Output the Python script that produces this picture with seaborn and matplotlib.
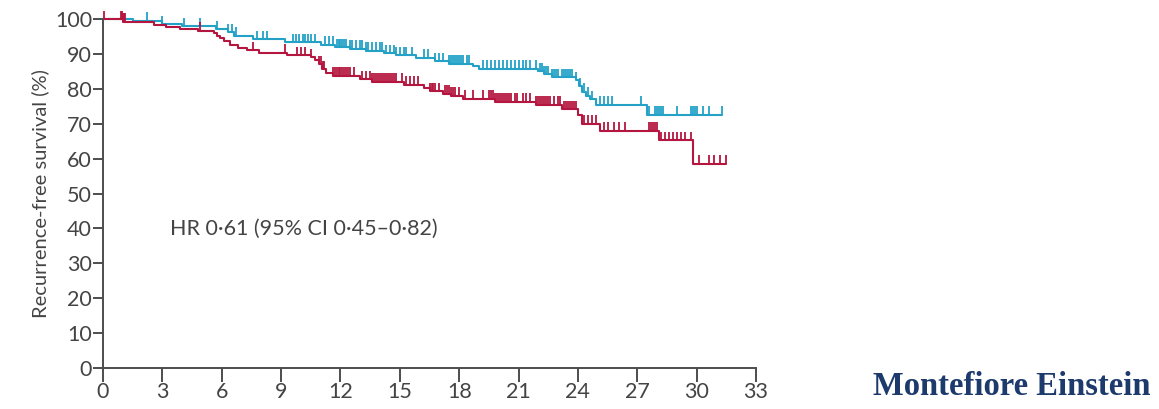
import numpy as np
import pandas as pd
import matplotlib
matplotlib.use("Agg")
import matplotlib.pyplot as plt
import seaborn as sns

# Kaplan-Meier step curves (months, recurrence-free survival %)
blue_times = [0, 1.5, 3.0, 4.0, 5.7, 6.3, 6.6, 7.6, 9.2, 11.0, 11.7, 12.5, 13.3, 14.2,
              14.8, 15.8, 16.8, 17.5, 18.7, 19.0, 22.0, 22.3, 22.7, 23.9, 24.05, 24.2,
              24.4, 24.6, 24.9, 27.5]
blue_surv = [100, 99.5, 98.6, 98.0, 97.0, 96.2, 95.2, 94.3, 93.4, 92.6, 92.0, 91.5, 90.9,
             90.2, 89.6, 88.9, 88.0, 87.2, 86.4, 85.8, 85.0, 84.2, 83.4, 82.4, 80.8, 79.2,
             78.0, 77.0, 75.5, 72.6]
blue_end = 31.3

red_times = [0, 1.0, 2.6, 3.2, 3.9, 4.8, 5.6, 5.75, 5.9, 6.1, 6.4, 6.8, 7.3, 7.9, 9.3,
             10.5, 10.7, 10.9, 11.05, 11.25, 11.6, 13.0, 13.6, 15.2, 16.2, 16.5, 17.2,
             17.6, 18.2, 19.8, 21.9, 23.2, 24.0, 24.2, 25.1, 28.1, 29.8]
red_surv = [100, 99.2, 98.4, 97.8, 97.2, 96.7, 96.0, 95.2, 94.6, 93.8, 92.6, 91.7, 91.0,
            90.3, 89.6, 89.0, 88.2, 87.0, 85.6, 84.6, 83.8, 82.8, 82.0, 81.2, 80.2, 79.3,
            78.6, 78.0, 77.2, 76.3, 75.4, 74.2, 72.4, 70.0, 68.0, 65.2, 58.6]
red_end = 31.5

# Censoring times
blue_censor = [2.2, 3.0, 4.1, 4.9, 5.75, 6.3, 6.5, 6.7, 7.8, 8.1, 8.3, 9.6, 9.75, 9.9, 10.1,
               10.2, 10.35, 10.5, 10.7, 11.2, 11.4, 11.6, 11.8, 11.9, 12.0, 12.1, 12.2, 12.3,
               12.5, 12.6, 12.8, 13.0, 13.1, 13.3, 13.4, 13.6, 13.8, 14.0, 14.1, 14.3, 14.5,
               14.7, 14.8, 15.0, 15.2, 15.3, 15.6, 16.2, 16.4, 16.8, 17.0, 17.2, 17.5, 17.6,
               17.7, 17.8, 17.9, 18.0, 18.1, 18.2, 18.4, 18.5, 19.2, 19.4, 19.6, 19.8, 20.0,
               20.2, 20.4, 20.6, 20.8, 21.0, 21.2, 21.4, 21.6, 21.9, 22.1, 22.2, 22.3, 22.4,
               22.5, 22.7, 22.8, 22.9, 23.0, 23.2, 23.3, 23.4, 23.5, 23.6, 23.7, 23.9, 24.1,
               24.3, 24.5, 24.7, 25.1, 25.3, 25.5, 25.7, 27.2, 27.6, 27.9, 28.0, 28.1, 28.2,
               28.3, 29.0, 29.7, 29.8, 29.9, 30.0, 30.3, 30.6, 31.3]
red_censor = [0.05, 0.9, 0.95, 1.0, 1.05, 1.1, 4.9, 7.6, 9.2, 9.8, 10.0, 10.2, 10.5, 10.9,
              11.0, 11.1, 11.15, 11.6, 11.7, 11.8, 11.9, 12.0, 12.1, 12.2, 12.3, 12.4, 12.5,
              12.7, 13.1, 13.3, 13.5, 13.6, 13.7, 13.8, 13.9, 14.0, 14.1, 14.2, 14.3, 14.4,
              14.5, 14.6, 14.7, 14.8, 15.1, 15.3, 15.5, 15.7, 15.9, 16.5, 16.6, 16.7, 16.8,
              17.0, 17.3, 17.4, 17.5, 17.6, 17.7, 17.8, 18.0, 18.3, 18.7, 19.2, 19.5, 19.6,
              19.7, 19.8, 19.9, 20.0, 20.1, 20.2, 20.3, 20.4, 20.5, 20.6, 20.8, 20.9, 21.2,
              21.4, 21.6, 21.9, 22.0, 22.1, 22.2, 22.3, 22.4, 22.5, 22.6, 22.8, 23.0, 23.1,
              23.3, 23.4, 23.5, 23.6, 23.7, 23.8, 23.9, 24.3, 24.5, 24.7, 24.9, 25.3, 25.5,
              25.8, 26.1, 26.4, 27.6, 27.7, 27.8, 27.9, 28.0, 28.1, 28.2, 28.4, 28.6, 28.8,
              29.0, 29.2, 29.4, 29.7, 30.1, 30.6, 30.9, 31.2, 31.5]

x_ticks = [0, 3, 6, 9, 12, 15, 18, 21, 24, 27, 30, 33]
y_ticks = [0, 10, 20, 30, 40, 50, 60, 70, 80, 90, 100]
hr_text = "HR 0·61 (95% CI 0·45–0·82)"
y_label = "Recurrence-free survival (%)"
brand = "Montefiore Einstein"

BLUE = "#23a1c6"
RED = "#b5163f"
AXIS = "#4d4d4d"

sns.set_style("ticks")
plt.rcParams["font.family"] = ["Lato", "DejaVu Sans"]

fig = plt.figure(figsize=(11.59, 4.09), dpi=100)
ax = fig.add_axes([0.0889, 0.1002, 0.5634, 0.8533])


def curve_frame(times, surv, end):
    return pd.DataFrame({"month": list(times) + [end],
                         "surv": list(surv) + [surv[-1]]})


def level_at(times, surv, t):
    idx = np.searchsorted(np.asarray(times), np.asarray(t), side="right") - 1
    return np.asarray(surv)[idx]


for times, surv, end, cens, col in [
    (blue_times, blue_surv, blue_end, blue_censor, BLUE),
    (red_times, red_surv, red_end, red_censor, RED),
]:
    df = curve_frame(times, surv, end)
    sns.lineplot(data=df, x="month", y="surv", ax=ax, color=col, lw=1.5,
                 drawstyle="steps-post", sort=False, clip_on=False)
    lv = level_at(times, surv, cens)
    ax.vlines(cens, lv, lv + 2.4, color=col, lw=1.3, clip_on=False)

ax.set_xlim(0, 33)
ax.set_ylim(0, 100)
ax.set_xticks(x_ticks)
ax.set_yticks(y_ticks)
ax.set_xlabel("")
ax.set_ylabel(y_label, fontsize=14.5, color="#444444", labelpad=4)
sns.despine(ax=ax)
for s in ["left", "bottom"]:
    ax.spines[s].set_color(AXIS)
    ax.spines[s].set_linewidth(1.4)
ax.tick_params(axis="both", colors=AXIS, labelcolor="#444444", labelsize=15.5, width=1.4)
ax.tick_params(axis="y", length=7, pad=1)
ax.tick_params(axis="x", length=10, pad=0)

ax.text(3.4, 40, hr_text, fontsize=15.5, color="#444444", va="center", ha="left")

fig.text(0.753, 0.016, brand, fontsize=23.5, fontweight="bold", color="#1d3a6c",
         family=["Liberation Serif", "DejaVu Serif"], ha="left", va="bottom")

fig.savefig("out.png", dpi=100)
